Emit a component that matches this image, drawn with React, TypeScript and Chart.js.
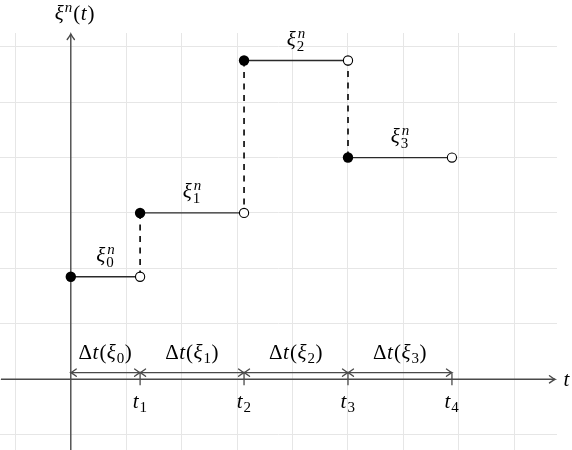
import React, { useEffect, useRef } from 'react';
import { Chart, registerables } from 'chart.js';

Chart.register(...registerables);

// ---- data ----
const jumpTimes = [0, 1.25, 3.125, 5, 6.875];
const levels = [1.85, 3, 5.75, 4];
const levelIndices = ['0', '1', '2', '3'];
const timeIndices = ['1', '2', '3', '4'];
const gridX = [-1, 0, 1, 2, 3, 4, 5, 6, 7, 8];
const gridY = [-1, 0, 1, 2, 3, 4, 5, 6];
const X_MIN = -1.277;
const X_MAX = 8.77;
const Y_MIN = -1.275;
const Y_MAX = 6.246;
const DT_ROW = 0.12;

const FONT = "'Liberation Serif'";
const MAIN = 21;
const SCRIPT = 15;

type Run =
  | { kind: 'txt'; t: string; it?: boolean; small?: boolean; dy?: number }
  | { kind: 'subsup'; sub: string; sup: string; subIt?: boolean; supIt?: boolean };

function fontOf(it: boolean | undefined, small: boolean | undefined) {
  return `${it ? 'italic ' : 'normal '}${small ? SCRIPT : MAIN}px ${FONT}`;
}

function drawRuns(ctx: CanvasRenderingContext2D, runs: Run[], cx: number, base: number) {
  const widths: number[] = [];
  let total = 0;
  for (const r of runs) {
    let w = 0;
    if (r.kind === 'txt') {
      ctx.font = fontOf(r.it, r.small);
      w = ctx.measureText(r.t).width + (r.it ? 1 : 0.5);
    } else {
      ctx.font = fontOf(r.subIt, true);
      const a = ctx.measureText(r.sub).width;
      ctx.font = fontOf(r.supIt, true);
      const b = ctx.measureText(r.sup).width;
      w = Math.max(a, b) + 1;
    }
    widths.push(w);
    total += w;
  }
  let x = cx - total / 2;
  ctx.fillStyle = '#000';
  ctx.textBaseline = 'alphabetic';
  ctx.textAlign = 'left';
  runs.forEach((r, i) => {
    if (r.kind === 'txt') {
      ctx.font = fontOf(r.it, r.small);
      ctx.fillText(r.t, x, base + (r.dy ?? 0));
    } else {
      ctx.font = fontOf(r.supIt, true);
      ctx.fillText(r.sup, x + 1, base - 8);
      ctx.font = fontOf(r.subIt, true);
      ctx.fillText(r.sub, x, base + 5);
    }
    x += widths[i];
  });
}

function arrowTip(ctx: CanvasRenderingContext2D, x: number, y: number, dx: number, dy: number) {
  const len = 5.5;
  const half = 3.6;
  const px = -dy;
  const py = dx;
  ctx.beginPath();
  ctx.moveTo(x - dx * len + px * half, y - dy * len + py * half);
  ctx.quadraticCurveTo(x - dx * 1.5 + px * 0.6, y - dy * 1.5 + py * 0.6, x, y);
  ctx.quadraticCurveTo(x - dx * 1.5 - px * 0.6, y - dy * 1.5 - py * 0.6, x - dx * len - px * half, y - dy * len - py * half);
  ctx.stroke();
}

const overlay = {
  id: 'overlay',
  beforeDatasetsDraw(chart: any) {
    const ctx: CanvasRenderingContext2D = chart.ctx;
    const xs = chart.scales.x;
    const ys = chart.scales.y;
    const { left, right, top, bottom } = chart.chartArea;
    const x0 = xs.getPixelForValue(0);
    const y0 = ys.getPixelForValue(0);
    ctx.save();
    ctx.strokeStyle = '#4a4a4a';
    ctx.lineWidth = 1.4;
    ctx.lineCap = 'butt';
    ctx.beginPath();
    ctx.moveTo(left + 1, y0);
    ctx.lineTo(right - 2, y0);
    ctx.stroke();
    ctx.lineCap = 'round';
    arrowTip(ctx, right - 2, y0, 1, 0);
    ctx.lineCap = 'butt';
    ctx.beginPath();
    ctx.moveTo(x0, bottom);
    ctx.lineTo(x0, top + 1);
    ctx.stroke();
    ctx.lineCap = 'round';
    arrowTip(ctx, x0, top + 1, 0, -1);

    const yr = ys.getPixelForValue(DT_ROW);
    ctx.lineWidth = 1.3;
    for (let i = 0; i < jumpTimes.length - 1; i++) {
      const a = xs.getPixelForValue(jumpTimes[i]);
      const b = xs.getPixelForValue(jumpTimes[i + 1]);
      ctx.lineCap = 'butt';
      ctx.beginPath();
      ctx.moveTo(a, yr);
      ctx.lineTo(b, yr);
      ctx.stroke();
      ctx.lineCap = 'round';
      arrowTip(ctx, a, yr, -1, 0);
      arrowTip(ctx, b, yr, 1, 0);
    }
    ctx.lineCap = 'butt';
    for (let i = 1; i < jumpTimes.length; i++) {
      const a = xs.getPixelForValue(jumpTimes[i]);
      ctx.beginPath();
      ctx.moveTo(a, y0 - 6);
      ctx.lineTo(a, y0 + 6);
      ctx.stroke();
    }
    ctx.restore();
  },
  afterDatasetsDraw(chart: any) {
    const ctx: CanvasRenderingContext2D = chart.ctx;
    const xs = chart.scales.x;
    const ys = chart.scales.y;
    const x0 = xs.getPixelForValue(0);
    const y0 = ys.getPixelForValue(0);
    const yr = ys.getPixelForValue(DT_ROW);
    ctx.save();
    for (let i = 0; i < levels.length; i++) {
      const mid = xs.getPixelForValue((jumpTimes[i] + jumpTimes[i + 1]) / 2);
      const ly = ys.getPixelForValue(levels[i]);
      drawRuns(ctx, [
        { kind: 'txt', t: 'ξ', it: true },
        { kind: 'subsup', sub: levelIndices[i], sup: 'n', supIt: true },
      ], mid, ly - 15);
      drawRuns(ctx, [
        { kind: 'txt', t: 'Δ' },
        { kind: 'txt', t: 't', it: true },
        { kind: 'txt', t: '(' },
        { kind: 'txt', t: 'ξ', it: true },
        { kind: 'txt', t: levelIndices[i], small: true, dy: 4 },
        { kind: 'txt', t: ')' },
      ], mid, yr - 14);
    }
    for (let i = 1; i < jumpTimes.length; i++) {
      const a = xs.getPixelForValue(jumpTimes[i]);
      drawRuns(ctx, [
        { kind: 'txt', t: 't', it: true },
        { kind: 'txt', t: timeIndices[i - 1], small: true, dy: 4 },
      ], a, y0 + 29);
    }
    drawRuns(ctx, [{ kind: 'txt', t: 't', it: true }], chart.width - 5, y0 + 7);
    drawRuns(ctx, [
      { kind: 'txt', t: 'ξ', it: true },
      { kind: 'txt', t: 'n', it: true, small: true, dy: -8 },
      { kind: 'txt', t: '(' },
      { kind: 'txt', t: 't', it: true },
      { kind: 'txt', t: ')' },
    ], x0 + 4, 20);
    ctx.restore();
  },
};

export default function App() {
  const ref = useRef<HTMLCanvasElement | null>(null);
  useEffect(() => {
    if (!ref.current) return;
    const stepSegments = levels.map((v, i) => ({
      data: [
        { x: jumpTimes[i], y: v },
        { x: jumpTimes[i + 1], y: v },
      ],
      showLine: true,
      borderColor: '#2a2a2a',
      borderWidth: 1.3,
      pointRadius: 0,
      order: 2,
    }));
    const jumpSegments = levels.slice(1).map((v, i) => ({
      data: [
        { x: jumpTimes[i + 1], y: v },
        { x: jumpTimes[i + 1], y: levels[i] },
      ],
      showLine: true,
      borderColor: '#000',
      borderWidth: 1.6,
      borderDash: [6, 5.5],
      pointRadius: 0,
      order: 3,
    }));
    const filled = {
      data: levels.map((v, i) => ({ x: jumpTimes[i], y: v })),
      showLine: false,
      pointRadius: 5.2,
      pointBackgroundColor: '#000',
      pointBorderColor: '#000',
      pointBorderWidth: 0,
      order: 0,
    };
    const open = {
      data: levels.map((v, i) => ({ x: jumpTimes[i + 1], y: v })),
      showLine: false,
      pointRadius: 4.6,
      pointBackgroundColor: '#fff',
      pointBorderColor: '#000',
      pointBorderWidth: 1.1,
      order: 0,
    };
    const chart = new Chart(ref.current, {
      type: 'scatter',
      data: { datasets: [filled, open, ...stepSegments, ...jumpSegments] as any },
      options: {
        animation: false,
        responsive: true,
        maintainAspectRatio: false,
        layout: { padding: { left: 0, right: 15, top: 33, bottom: 0 }, autoPadding: false },
        plugins: { legend: { display: false }, tooltip: { enabled: false } },
        events: [],
        scales: {
          x: {
            type: 'linear',
            min: X_MIN,
            max: X_MAX,
            afterBuildTicks: (s: any) => {
              s.ticks = gridX.map((v) => ({ value: v }));
            },
            ticks: { display: false },
            grid: { color: '#e6e6e6', lineWidth: 1, drawTicks: false },
            border: { display: false },
          },
          y: {
            type: 'linear',
            min: Y_MIN,
            max: Y_MAX,
            afterBuildTicks: (s: any) => {
              s.ticks = gridY.map((v) => ({ value: v }));
            },
            ticks: { display: false },
            grid: { color: '#e6e6e6', lineWidth: 1, drawTicks: false },
            border: { display: false },
          },
        },
      },
      plugins: [overlay],
    });
    return () => chart.destroy();
  }, []);
  return (
    <div style={{ position: 'fixed', left: 0, top: 0, width: 572, height: 450, background: '#fff' }}>
      <canvas ref={ref} />
    </div>
  );
}
